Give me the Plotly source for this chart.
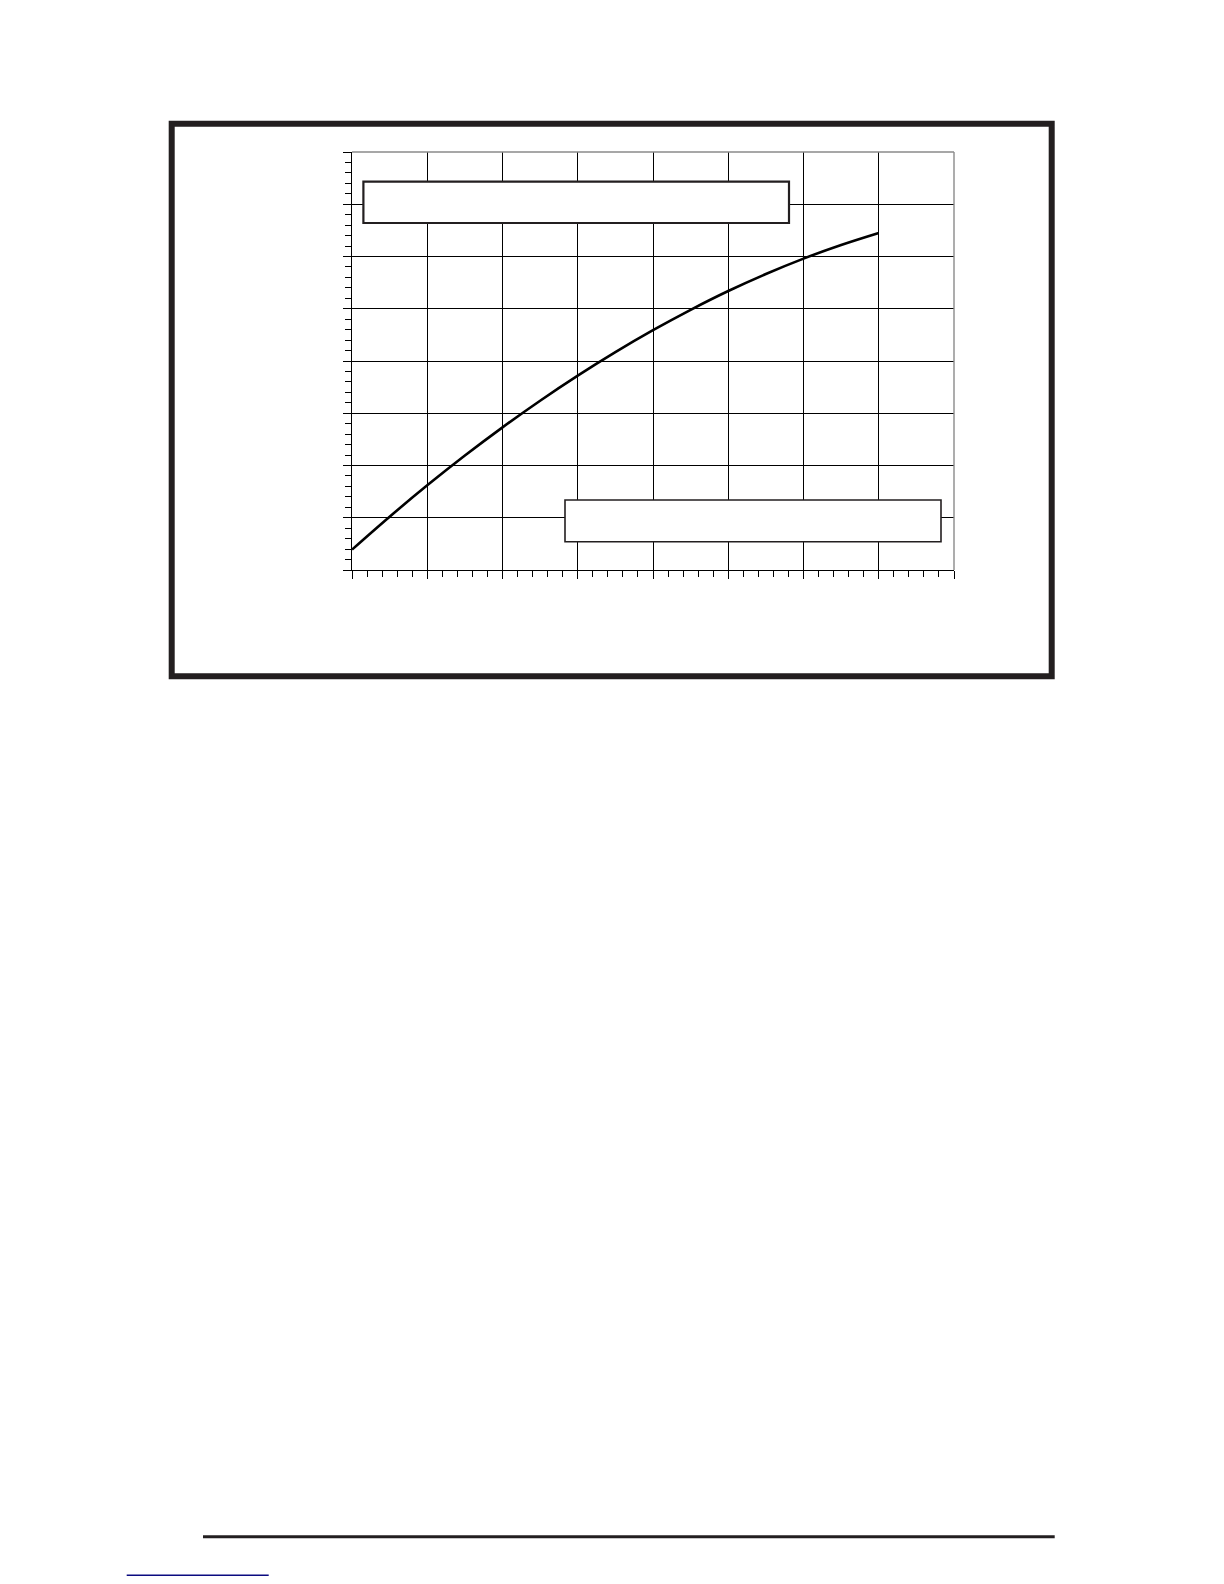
import plotly.graph_objects as go

# ---- data (no labels are printed) ----
x_vals = [0, 5, 10, 15, 20, 25, 30, 35, 40, 45, 50, 55, 60, 65, 70]
y_vals = [3.9, 10.2, 16.2, 21.9, 27.3, 32.4, 37.2, 41.7, 45.9, 49.8, 53.4, 56.65, 59.6, 62.2, 64.5]
x_range = [0, 80]
y_range = [0, 80]
major_step = 10

# the page body has an 8px default margin, so the figure is placed at (8, 8)
OFF = 8
W, H = 1224 - 2 * OFF, 1584 - 2 * OFF
L, R, T, B = 352.3 - OFF, 954.3 - OFF, 152.3 - OFF, 570.3 - OFF   # plot-area pixel box


def px(x):
    return (x - OFF - L) / (R - L)


def py(y):
    return (B - (y - OFF)) / (B - T)


fig = go.Figure()
fig.add_trace(go.Scatter(
    x=x_vals, y=y_vals, mode="lines",
    line=dict(color="#000000", width=2.6, shape="spline", smoothing=1.0),
    hoverinfo="skip", showlegend=False,
))

axis_common = dict(
    showticklabels=False, showgrid=True, gridcolor="#000000", gridwidth=1.2,
    zeroline=False, showline=True, linecolor="#000000", linewidth=1.4,
    ticks="outside", tickcolor="#000000", tickwidth=1.3, ticklen=8,
    dtick=major_step, tick0=0,
    minor=dict(ticks="outside", ticklen=5.5, tickcolor="#000000", tickwidth=1.2,
               dtick=major_step / 5, showgrid=False),
    fixedrange=True,
)
fig.update_xaxes(range=x_range, **axis_common)
fig.update_yaxes(range=y_range, **axis_common)

shapes = []
# grey top and right plot edges
shapes.append(dict(type="line", xref="paper", yref="paper", x0=0, x1=1, y0=1, y1=1,
                   line=dict(color="#8a8a8a", width=1.4), layer="above"))
shapes.append(dict(type="line", xref="paper", yref="paper", x0=1, x1=1, y0=0, y1=1,
                   line=dict(color="#8a8a8a", width=1.4), layer="above"))
# empty label boxes (white filled, cover the grid)
shapes.append(dict(type="rect", xref="paper", yref="paper",
                   x0=px(363.7), x1=px(789.3), y0=py(223.3), y1=py(182),
                   fillcolor="#ffffff", line=dict(color="#231f20", width=2.2), layer="above"))
shapes.append(dict(type="rect", xref="paper", yref="paper",
                   x0=px(565.3), x1=px(941.3), y0=py(542), y1=py(500.3),
                   fillcolor="#ffffff", line=dict(color="#231f20", width=1.6), layer="above"))
# thick outer frame
shapes.append(dict(type="rect", xref="paper", yref="paper",
                   x0=px(172), x1=px(1052), y0=py(676.5), y1=py(124),
                   fillcolor="rgba(0,0,0,0)", line=dict(color="#231f20", width=6), layer="above"))
# page rule and blue link underline
shapes.append(dict(type="line", xref="paper", yref="paper",
                   x0=px(203.3), x1=px(1055), y0=py(1537), y1=py(1537),
                   line=dict(color="#231f20", width=3), layer="above"))
shapes.append(dict(type="line", xref="paper", yref="paper",
                   x0=px(127), x1=px(269), y0=py(1575.5), y1=py(1575.5),
                   line=dict(color="#0b0b80", width=1.6), layer="above"))

fig.update_layout(
    width=W, height=H,
    margin=dict(l=L, r=W - R, t=T, b=H - B, pad=0),
    paper_bgcolor="#ffffff", plot_bgcolor="#ffffff",
    shapes=shapes, showlegend=False,
)

fig.write_html("out.html", config={"displayModeBar": False})
